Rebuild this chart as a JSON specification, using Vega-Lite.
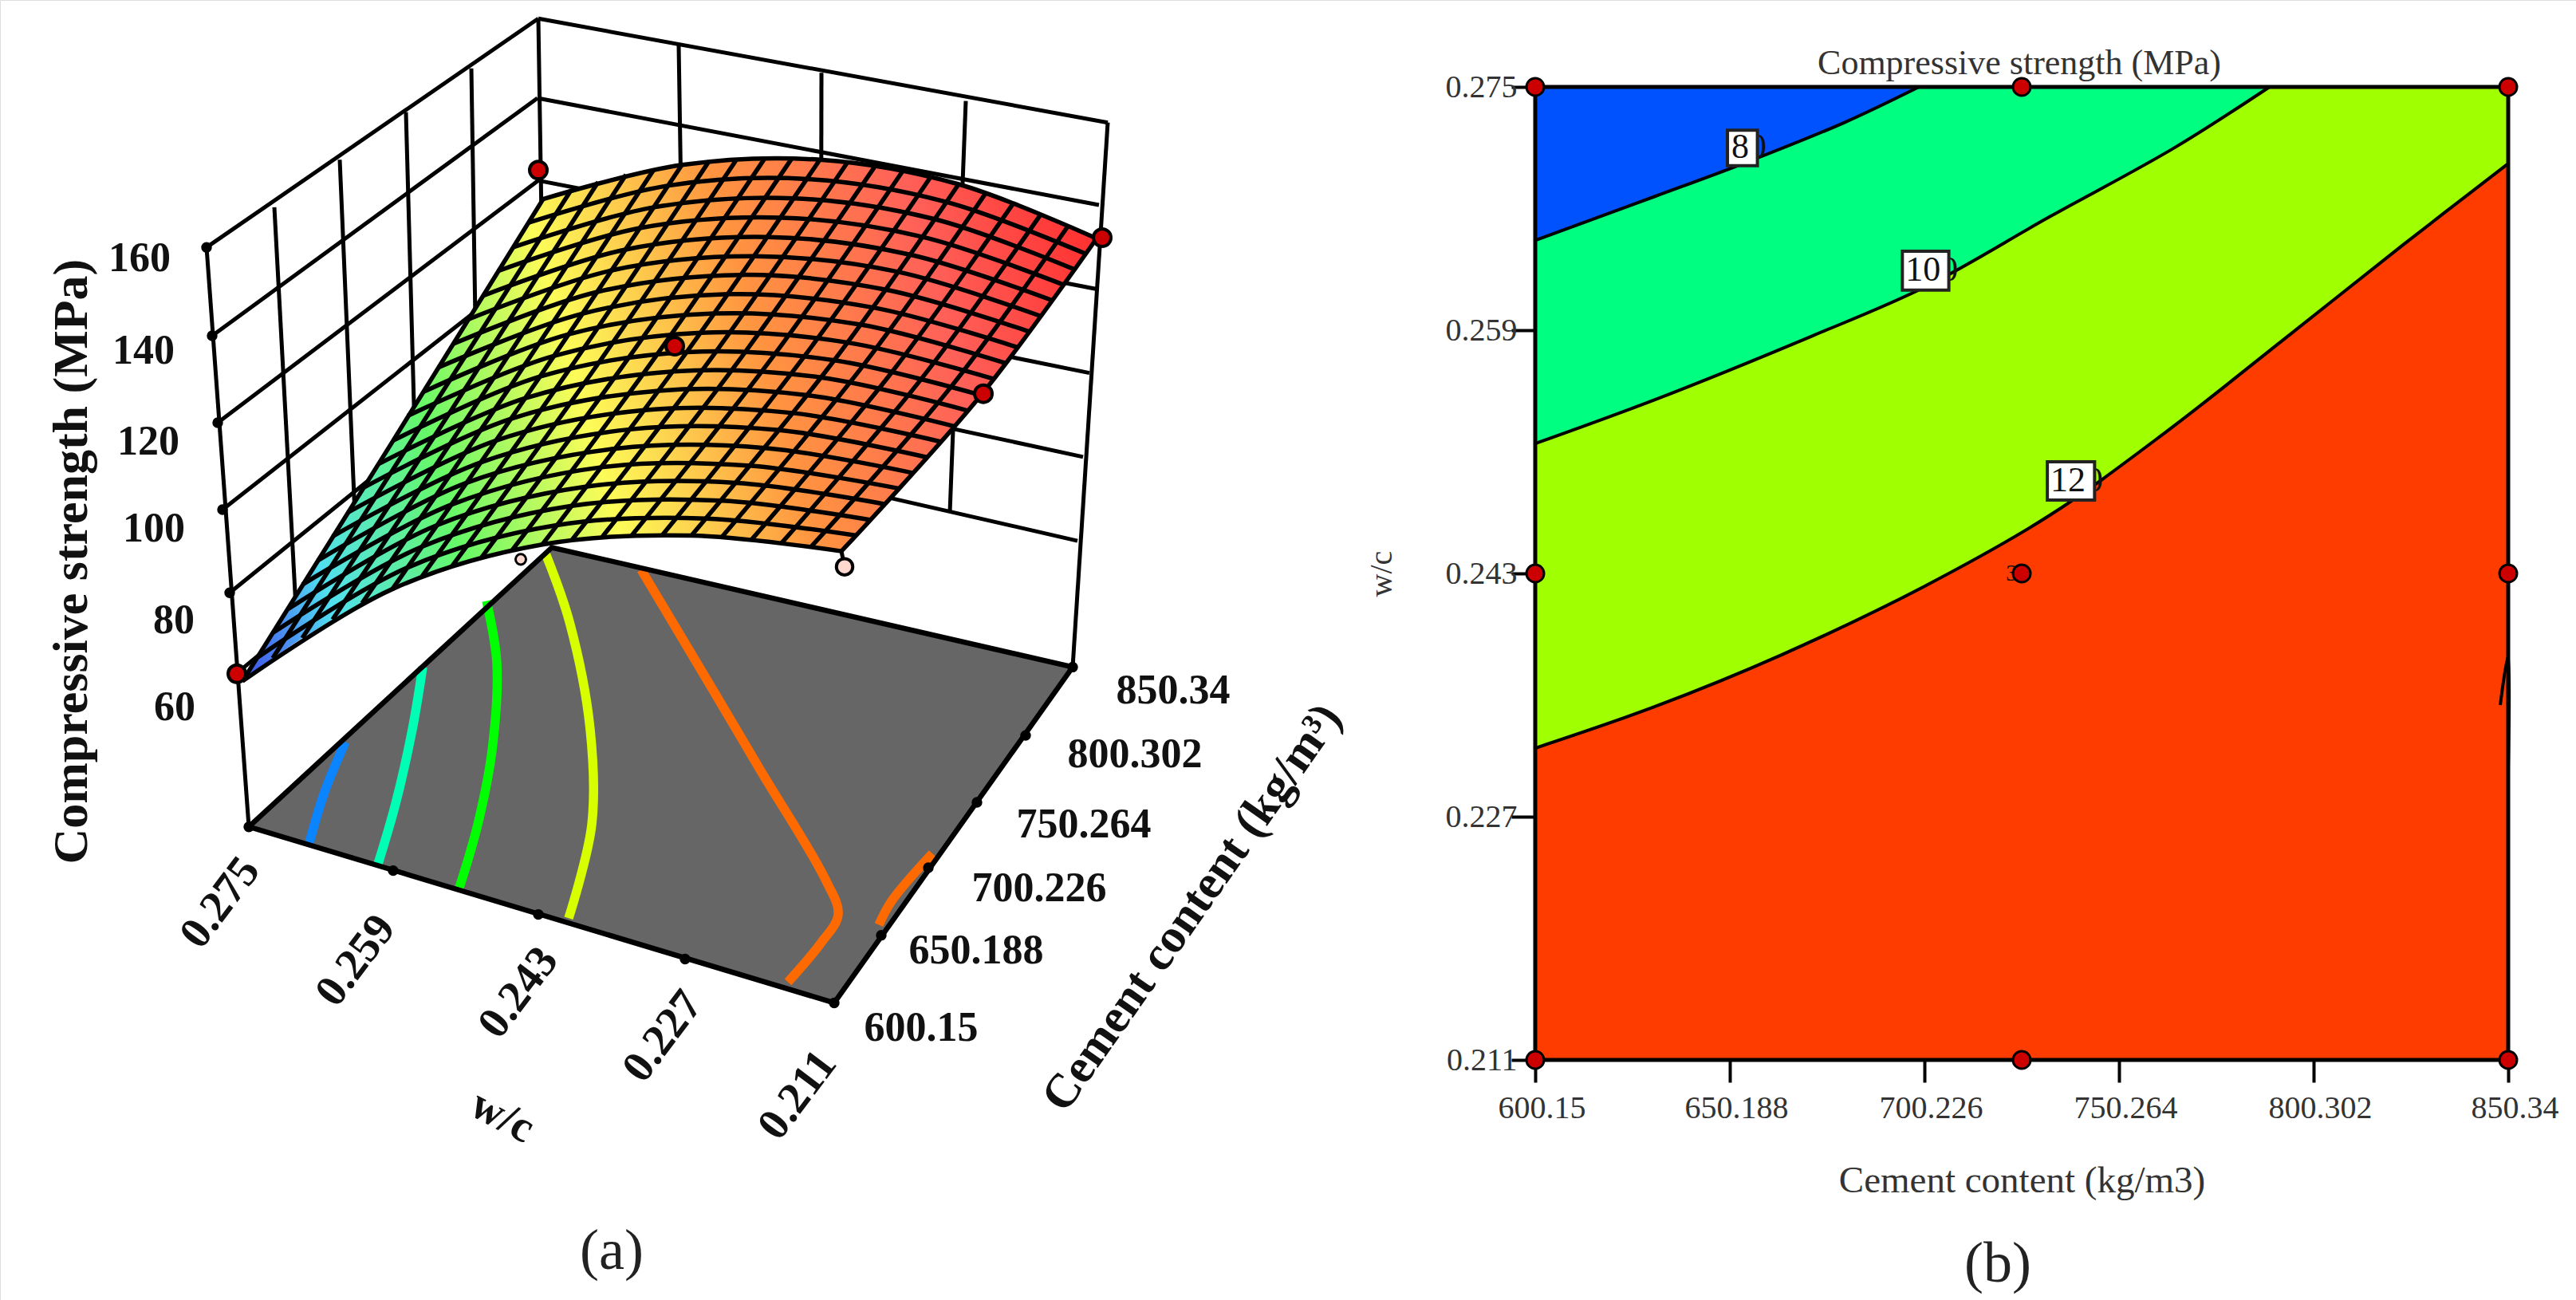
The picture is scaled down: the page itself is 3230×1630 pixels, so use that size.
{"$schema":"https://vega.github.io/schema/vega-lite/v6.json","autosize":{"type":"fit","contains":"padding"},"width":3230,"height":1630,"padding":0,"background":"white",
"datasets":{
"walls":[
{"l":"postL","u":259,"v":333},{"l":"postL","u":312,"v":1113},
{"l":"postB","u":675,"v":25},{"l":"postB","u":683,"v":564},
{"l":"postR","u":1389,"v":165},{"l":"postR","u":1345,"v":898},
{"l":"L160","u":259,"v":333},{"l":"L160","u":675,"v":25},
{"l":"L140","u":266,"v":452},{"l":"L140","u":674,"v":132},
{"l":"L120","u":273,"v":569},{"l":"L120","u":675,"v":243},
{"l":"L100","u":279,"v":686},{"l":"L100","u":676,"v":352},
{"l":"L80","u":288,"v":798},{"l":"L80","u":679,"v":458},
{"l":"L60","u":296,"v":907},{"l":"L60","u":683,"v":564},
{"l":"R160","u":675,"v":25},{"l":"R160","u":1389,"v":165},
{"l":"R140","u":674,"v":132},{"l":"R140","u":1378,"v":276},
{"l":"R120","u":675,"v":243},{"l":"R120","u":1374,"v":389},
{"l":"R100","u":676,"v":352},{"l":"R100","u":1366,"v":502},
{"l":"R80","u":679,"v":458},{"l":"R80","u":1358,"v":615},
{"l":"R60","u":683,"v":564},{"l":"R60","u":1351,"v":728},
{"l":"VL1","u":344,"v":279},{"l":"VL1","u":372,"v":838},
{"l":"VL2","u":426,"v":215},{"l":"VL2","u":448,"v":770},
{"l":"VL3","u":509,"v":151},{"l":"VL3","u":523,"v":701},
{"l":"VL4","u":591,"v":92},{"l":"VL4","u":599,"v":633},
{"l":"VR1","u":851,"v":61},{"l":"VR1","u":859,"v":608},
{"l":"VR2","u":1030,"v":98},{"l":"VR2","u":1029,"v":653},
{"l":"VR3","u":1211,"v":136},{"l":"VR3","u":1191,"v":690},
{"l":"stem","u":1055,"v":742},{"l":"stem","u":1059,"v":763}],
"floor":[{"u":312,"a":1113,"b":1113},{"u":692,"a":737,"b":1236},{"u":1046,"a":824,"b":1350},{"u":1345,"a":898,"b":898}],
"floorEdge":[{"i":0,"u":312,"v":1113},{"i":1,"u":692,"v":737},{"i":2,"u":1345,"v":898},{"i":3,"u":1046,"v":1350},{"i":4,"u":312,"v":1113}],
"floorContours":[
{"id":"a","level":80,"i":0,"u":433,"v":999},{"id":"a","level":80,"i":1,"u":407,"v":1066},{"id":"a","level":80,"i":2,"u":388,"v":1134},
{"id":"b","level":90,"i":0,"u":530,"v":898},{"id":"b","level":90,"i":1,"u":517,"v":982},{"id":"b","level":90,"i":2,"u":496,"v":1082},{"id":"b","level":90,"i":3,"u":474,"v":1163},
{"id":"c","level":100,"i":0,"u":610,"v":809},{"id":"c","level":100,"i":1,"u":623,"v":893},{"id":"c","level":100,"i":2,"u":617,"v":1010},{"id":"c","level":100,"i":3,"u":599,"v":1110},{"id":"c","level":100,"i":4,"u":576,"v":1195},
{"id":"d","level":110,"i":0,"u":684,"v":745},{"id":"d","level":110,"i":1,"u":714,"v":837},{"id":"d","level":110,"i":2,"u":740,"v":982},{"id":"d","level":110,"i":3,"u":742,"v":1110},{"id":"d","level":110,"i":4,"u":713,"v":1236},
{"id":"e","level":120,"i":0,"u":804,"v":767},{"id":"e","level":120,"i":1,"u":893,"v":927},{"id":"e","level":120,"i":2,"u":953,"v":1036},{"id":"e","level":120,"i":3,"u":1035,"v":1184},{"id":"e","level":120,"i":4,"u":1051,"v":1231},{"id":"e","level":120,"i":5,"u":1029,"v":1270},{"id":"e","level":120,"i":6,"u":988,"v":1322},
{"id":"f","level":120,"i":0,"u":1102,"v":1245},{"id":"f","level":120,"i":1,"u":1118,"v":1213},{"id":"f","level":120,"i":2,"u":1169,"v":1149}],
"surface":[{"u":304,"a":917,"b":917},{"u":342,"a":852,"b":886},{"u":379,"a":787,"b":859},{"u":417,"a":722,"b":834},{"u":454,"a":659,"b":812},{"u":492,"a":593,"b":793},{"u":529,"a":530,"b":776},{"u":567,"a":464,"b":762},{"u":604,"a":401,"b":750},{"u":642,"a":335,"b":741},{"u":681,"a":268,"b":733},{"u":717,"a":256,"b":727},{"u":750,"a":245,"b":723},{"u":785,"a":235,"b":721},{"u":820,"a":228,"b":721},{"u":855,"a":222,"b":721},{"u":889,"a":217,"b":722},{"u":924,"a":214,"b":725},{"u":959,"a":213,"b":729},{"u":993,"a":213,"b":733},{"u":1028,"a":215,"b":738},{"u":1055,"a":217,"b":742},{"u":1097,"a":224,"b":694},{"u":1132,"a":230,"b":654},{"u":1167,"a":238,"b":611},{"u":1202,"a":248,"b":569},{"u":1236,"a":260,"b":523},{"u":1271,"a":273,"b":475},{"u":1306,"a":287,"b":426},{"u":1340,"a":303,"b":376},{"u":1375,"a":321,"b":321}],
"mesh":[
{"l":0,"u":304,"v":917},{"l":0,"u":492,"v":793},{"l":0,"u":680,"v":733},{"l":0,"u":867,"v":721},{"l":0,"u":1055,"v":742},
{"l":1,"u":323,"v":885},{"l":1,"u":511,"v":764},{"l":1,"u":698,"v":707},{"l":1,"u":886,"v":698},{"l":1,"u":1074,"v":721},
{"l":2,"u":342,"v":852},{"l":2,"u":529,"v":736},{"l":2,"u":717,"v":681},{"l":2,"u":905,"v":674},{"l":2,"u":1092,"v":700},
{"l":3,"u":361,"v":820},{"l":3,"u":548,"v":707},{"l":3,"u":736,"v":655},{"l":3,"u":923,"v":650},{"l":3,"u":1111,"v":679},
{"l":4,"u":379,"v":787},{"l":4,"u":567,"v":679},{"l":4,"u":754,"v":629},{"l":4,"u":941,"v":627},{"l":4,"u":1129,"v":658},
{"l":5,"u":398,"v":755},{"l":5,"u":585,"v":650},{"l":5,"u":772,"v":604},{"l":5,"u":959,"v":603},{"l":5,"u":1146,"v":637},
{"l":6,"u":417,"v":722},{"l":6,"u":604,"v":622},{"l":6,"u":790,"v":578},{"l":6,"u":977,"v":579},{"l":6,"u":1164,"v":616},
{"l":7,"u":436,"v":690},{"l":7,"u":622,"v":593},{"l":7,"u":808,"v":552},{"l":7,"u":994,"v":556},{"l":7,"u":1181,"v":595},
{"l":8,"u":455,"v":657},{"l":8,"u":640,"v":564},{"l":8,"u":826,"v":526},{"l":8,"u":1012,"v":532},{"l":8,"u":1197,"v":574},
{"l":9,"u":474,"v":625},{"l":9,"u":659,"v":536},{"l":9,"u":844,"v":500},{"l":9,"u":1029,"v":508},{"l":9,"u":1214,"v":553},
{"l":10,"u":493,"v":593},{"l":10,"u":677,"v":507},{"l":10,"u":861,"v":474},{"l":10,"u":1046,"v":485},{"l":10,"u":1230,"v":532},
{"l":11,"u":511,"v":560},{"l":11,"u":695,"v":479},{"l":11,"u":879,"v":448},{"l":11,"u":1062,"v":461},{"l":11,"u":1246,"v":510},
{"l":12,"u":530,"v":528},{"l":12,"u":713,"v":450},{"l":12,"u":896,"v":422},{"l":12,"u":1079,"v":437},{"l":12,"u":1261,"v":489},
{"l":13,"u":549,"v":495},{"l":13,"u":731,"v":422},{"l":13,"u":913,"v":396},{"l":13,"u":1095,"v":414},{"l":13,"u":1277,"v":468},
{"l":14,"u":568,"v":463},{"l":14,"u":749,"v":393},{"l":14,"u":930,"v":370},{"l":14,"u":1111,"v":390},{"l":14,"u":1292,"v":447},
{"l":15,"u":587,"v":430},{"l":15,"u":767,"v":364},{"l":15,"u":946,"v":345},{"l":15,"u":1126,"v":366},{"l":15,"u":1306,"v":426},
{"l":16,"u":606,"v":398},{"l":16,"u":784,"v":336},{"l":16,"u":963,"v":319},{"l":16,"u":1142,"v":343},{"l":16,"u":1321,"v":405},
{"l":17,"u":624,"v":365},{"l":17,"u":802,"v":307},{"l":17,"u":980,"v":293},{"l":17,"u":1157,"v":319},{"l":17,"u":1335,"v":384},
{"l":18,"u":643,"v":333},{"l":18,"u":820,"v":279},{"l":18,"u":996,"v":267},{"l":18,"u":1172,"v":295},{"l":18,"u":1348,"v":363},
{"l":19,"u":662,"v":300},{"l":19,"u":837,"v":250},{"l":19,"u":1012,"v":241},{"l":19,"u":1187,"v":272},{"l":19,"u":1362,"v":342},
{"l":20,"u":681,"v":268},{"l":20,"u":855,"v":222},{"l":20,"u":1028,"v":215},{"l":20,"u":1202,"v":248},{"l":20,"u":1375,"v":321},
{"l":100,"u":304,"v":917},{"l":100,"u":493,"v":593},{"l":100,"u":681,"v":268},
{"l":101,"u":342,"v":886},{"l":101,"u":529,"v":571},{"l":101,"u":716,"v":256},
{"l":102,"u":379,"v":859},{"l":102,"u":566,"v":552},{"l":102,"u":750,"v":245},
{"l":103,"u":417,"v":834},{"l":103,"u":603,"v":535},{"l":103,"u":785,"v":235},
{"l":104,"u":454,"v":812},{"l":104,"u":640,"v":520},{"l":104,"u":820,"v":228},
{"l":105,"u":492,"v":793},{"l":105,"u":677,"v":507},{"l":105,"u":855,"v":222},
{"l":106,"u":529,"v":776},{"l":106,"u":714,"v":497},{"l":106,"u":889,"v":217},
{"l":107,"u":567,"v":762},{"l":107,"u":751,"v":488},{"l":107,"u":924,"v":214},
{"l":108,"u":604,"v":750},{"l":108,"u":788,"v":482},{"l":108,"u":959,"v":213},
{"l":109,"u":642,"v":741},{"l":109,"u":824,"v":477},{"l":109,"u":993,"v":213},
{"l":110,"u":680,"v":733},{"l":110,"u":861,"v":474},{"l":110,"u":1028,"v":215},
{"l":111,"u":717,"v":727},{"l":111,"u":898,"v":473},{"l":111,"u":1063,"v":218},
{"l":112,"u":755,"v":723},{"l":112,"u":935,"v":473},{"l":112,"u":1097,"v":224},
{"l":113,"u":792,"v":721},{"l":113,"u":972,"v":476},{"l":113,"u":1132,"v":230},
{"l":114,"u":830,"v":721},{"l":114,"u":1009,"v":479},{"l":114,"u":1167,"v":238},
{"l":115,"u":867,"v":721},{"l":115,"u":1046,"v":485},{"l":115,"u":1202,"v":248},
{"l":116,"u":905,"v":723},{"l":116,"u":1083,"v":491},{"l":116,"u":1236,"v":260},
{"l":117,"u":942,"v":727},{"l":117,"u":1119,"v":500},{"l":117,"u":1271,"v":273},
{"l":118,"u":980,"v":731},{"l":118,"u":1156,"v":509},{"l":118,"u":1306,"v":287},
{"l":119,"u":1017,"v":736},{"l":119,"u":1193,"v":520},{"l":119,"u":1340,"v":303},
{"l":120,"u":1055,"v":742},{"l":120,"u":1230,"v":532},{"l":120,"u":1375,"v":321}],
"tickDots":[{"u":493,"v":1172},{"u":675,"v":1231},{"u":859,"v":1291},{"u":1105,"v":1259},{"u":1164,"v":1168},{"u":1225,"v":1080},{"u":1286,"v":990},{"u":259,"v":333},{"u":266,"v":452},{"u":273,"v":569},{"u":279,"v":686},{"u":288,"v":798},{"u":312,"v":1113},{"u":1046,"v":1350},{"u":1345,"v":898}],
"runsA":[{"u":297,"v":907},{"u":675,"v":229},{"u":1382,"v":320},{"u":846,"v":466},{"u":1233,"v":530}],
"zLabels":[{"u":175,"v":348,"t":"160"},{"u":180,"v":472,"t":"140"},{"u":186,"v":595,"t":"120"},{"u":193,"v":712,"t":"100"},{"u":218,"v":835,"t":"80"},{"u":219,"v":952,"t":"60"},{"u":1155,"v":1384,"t":"600.15"},{"u":1224,"v":1280,"t":"650.188"},{"u":1303,"v":1196,"t":"700.226"},{"u":1359,"v":1110,"t":"750.264"},{"u":1423,"v":1016,"t":"800.302"},{"u":1471,"v":930,"t":"850.34"}],
"wcLabels":[{"u":276,"v":1215,"t":"0.275"},{"u":446,"v":1293,"t":"0.259"},{"u":650,"v":1336,"t":"0.243"},{"u":831,"v":1395,"t":"0.227"},{"u":1000,"v":1474,"t":"0.211"}],
"contours":[
{"level":0,"cement":600.15,"wc":0.211,"top":0.275},{"level":0,"cement":850.34,"wc":0.211,"top":0.275},
{"level":120,"cement":600.15,"wc":0.23151,"top":0.275},{"level":120,"cement":630.94,"wc":0.23424,"top":0.275},{"level":120,"cement":663.36,"wc":0.23763,"top":0.275},{"level":120,"cement":699.82,"wc":0.2421,"top":0.275},{"level":120,"cement":732.23,"wc":0.24679,"top":0.275},{"level":120,"cement":762.62,"wc":0.25236,"top":0.275},{"level":120,"cement":793.01,"wc":0.25847,"top":0.275},{"level":120,"cement":823.4,"wc":0.26463,"top":0.275},{"level":120,"cement":850.34,"wc":0.26996,"top":0.275},
{"level":100,"cement":600.15,"wc":0.25154,"top":0.275},{"level":100,"cement":630.94,"wc":0.25443,"top":0.275},{"level":100,"cement":671.46,"wc":0.25863,"top":0.275},{"level":100,"cement":700.83,"wc":0.2619,"top":0.275},{"level":100,"cement":732.23,"wc":0.26643,"top":0.275},{"level":100,"cement":764.65,"wc":0.27102,"top":0.275},{"level":100,"cement":788.96,"wc":0.275,"top":0.275},
{"level":80,"cement":600.15,"wc":0.26491,"top":0.275},{"level":80,"cement":630.94,"wc":0.2678,"top":0.275},{"level":80,"cement":653.23,"wc":0.26992,"top":0.275},{"level":80,"cement":679.56,"wc":0.27265,"top":0.275},{"level":80,"cement":698.81,"wc":0.275,"top":0.275},
{"level":140,"cement":850.34,"wc":0.23763,"top":0.275},{"level":140,"cement":848.3,"wc":0.23435,"top":0.275},{"level":140,"cement":850.34,"wc":0.23026,"top":0.275}],
"frame":[{"i":0,"cement":600.15,"wc":0.211},{"i":1,"cement":600.15,"wc":0.275},{"i":2,"cement":850.34,"wc":0.275},{"i":3,"cement":850.34,"wc":0.211},{"i":4,"cement":600.15,"wc":0.211}],
"runsB":[{"cement":600.15,"wc":0.275},{"cement":725.245,"wc":0.275},{"cement":850.34,"wc":0.275},{"cement":600.15,"wc":0.243},{"cement":725.245,"wc":0.243},{"cement":850.34,"wc":0.243},{"cement":600.15,"wc":0.211},{"cement":725.245,"wc":0.211},{"cement":850.34,"wc":0.211}],
"contourLabels":[
{"cement":650.59,"wc":0.27102,"short":"8","rem":655.1,"c1":649.58,"c2":657.28,"w1":0.26982,"w2":0.27216},
{"cement":695.36,"wc":0.26294,"short":"10","rem":704.38,"c1":694.55,"c2":706.5,"w1":0.26163,"w2":0.2642},
{"cement":732.64,"wc":0.24908,"short":"12","rem":741.66,"c1":731.83,"c2":743.98,"w1":0.24783,"w2":0.25034}]
},
"resolve":{"scale":{"x":"independent","y":"independent"},"axis":{"x":"independent","y":"independent"}},
"layer":[
{"encoding":{
"x":{"field":"u","type":"quantitative","scale":{"domain":[0,3230],"range":[0,3230],"nice":false,"zero":false},"axis":null},
"y":{"field":"v","type":"quantitative","scale":{"domain":[0,1750],"range":[0,1630],"nice":false,"zero":false},"axis":null}},
"layer":[
{"data":{"name":"walls"},"mark":{"type":"line","stroke":"#000000","strokeWidth":5},"encoding":{"detail":{"field":"l","type":"nominal"}}},
{"data":{"name":"floor"},"mark":{"type":"area","fill":"#666666","interpolate":"linear"},"encoding":{"y":{"field":"a","type":"quantitative","scale":{"domain":[0,1750],"range":[0,1630],"nice":false,"zero":false},"axis":null},"y2":{"field":"b"}}},
{"data":{"name":"floorContours"},"mark":{"type":"line","strokeWidth":11.5,"interpolate":"catmull-rom"},"encoding":{"detail":{"field":"id","type":"nominal"},"order":{"field":"i","type":"quantitative"},"stroke":{"field":"level","type":"nominal","scale":{"domain":[80,90,100,110,120],"range":["#0a84ff","#00ffb4","#00ff00","#d8ff00","#ff6a00"]},"legend":null}}},
{"data":{"name":"floorEdge"},"mark":{"type":"line","stroke":"#000000","strokeWidth":6.5},"encoding":{"order":{"field":"i","type":"quantitative"}}},
{"data":{"name":"tickDots"},"mark":{"type":"point","filled":true,"fill":"#000000","stroke":"#000000","size":130,"opacity":1}},
{"data":{"values":[{"u":1059,"v":763}]},"mark":{"type":"point","filled":true,"fill":"#ffd9d0","stroke":"#000000","strokeWidth":4,"size":420,"opacity":1}},
{"data":{"values":[{"u":653,"v":753}]},"mark":{"type":"point","filled":true,"fill":"#ffd9d0","stroke":"#000000","strokeWidth":3,"size":170,"opacity":1}},
{"data":{"name":"surface"},"mark":{"type":"area","interpolate":"linear","fill":{"gradient":"linear","x1":0,"y1":1,"x2":1.113,"y2":0.807,"stops":[{"offset":0,"color":"#3f4fe8"},{"offset":0.05,"color":"#4a86f2"},{"offset":0.112,"color":"#50e0f0"},{"offset":0.26,"color":"#66f868"},{"offset":0.427,"color":"#fcfc58"},{"offset":0.626,"color":"#ff9440"},{"offset":0.823,"color":"#ff6058"},{"offset":1,"color":"#ff3030"}]}},"encoding":{"y":{"field":"a","type":"quantitative","scale":{"domain":[0,1750],"range":[0,1630],"nice":false,"zero":false},"axis":null},"y2":{"field":"b"}}},
{"data":{"name":"mesh"},"mark":{"type":"line","stroke":"#000000","strokeWidth":5.5,"interpolate":"catmull-rom"},"encoding":{"detail":{"field":"l","type":"nominal"}}},
{"data":{"name":"runsA"},"mark":{"type":"point","filled":true,"fill":"#cc0000","stroke":"#000000","strokeWidth":4,"size":484,"opacity":1}},
{"data":{"name":"zLabels"},"mark":{"type":"text","font":"Liberation Serif","fontWeight":"bold","fontSize":52,"fill":"#111111","align":"center","baseline":"middle"},"encoding":{"text":{"field":"t","type":"nominal"}}},
{"data":{"name":"wcLabels"},"mark":{"type":"text","font":"Liberation Serif","fontWeight":"bold","fontSize":56,"fill":"#111111","align":"center","baseline":"middle","angle":-53},"encoding":{"text":{"field":"t","type":"nominal"}}},
{"data":{"values":[{"u":90,"v":756,"t":"Compressive strength (MPa)"}]},"mark":{"type":"text","font":"Liberation Serif","fontWeight":"bold","fontSize":62,"fill":"#111111","align":"center","baseline":"middle","angle":-90},"encoding":{"text":{"field":"t","type":"nominal"}}},
{"data":{"values":[{"u":630,"v":1503,"t":"w/c"}]},"mark":{"type":"text","font":"Liberation Serif","fontWeight":"bold","fontSize":56,"fill":"#111111","align":"center","baseline":"middle","angle":28},"encoding":{"text":{"field":"t","type":"nominal"}}},
{"data":{"values":[{"u":1495,"v":1222,"t":"Cement content (kg/m³)"}]},"mark":{"type":"text","font":"Liberation Serif","fontWeight":"bold","fontSize":60,"fill":"#111111","align":"center","baseline":"middle","angle":-55},"encoding":{"text":{"field":"t","type":"nominal"}}},
{"data":{"values":[{"u":767,"v":1685,"t":"(a)"},{"u":2505,"v":1702,"t":"(b)"}]},"mark":{"type":"text","font":"Liberation Serif","fontSize":72,"fill":"#222222","align":"center","baseline":"middle"},"encoding":{"text":{"field":"t","type":"nominal"}}},
{"data":{"values":[{"u":2532,"v":86,"t":"Compressive strength (MPa)"}]},"mark":{"type":"text","font":"Liberation Serif","fontSize":44,"fill":"#333333","align":"center","baseline":"middle"},"encoding":{"text":{"field":"t","type":"nominal"}}}
]},
{"encoding":{
"x":{"field":"cement","type":"quantitative","scale":{"domain":[600.15,850.34],"range":[1925,3145],"nice":false,"zero":false},
"axis":{"orient":"bottom","offset":-301,"values":[600.15,650.188,700.226,750.264,800.302,850.34],"format":".6~r","grid":false,"domain":false,"tickColor":"#000000","tickWidth":4,"tickSize":28,"labelFont":"Liberation Serif","labelFontSize":40,"labelColor":"#333333","labelPadding":12,"labelOffset":8,"labelFlush":false,"labelOverlap":false,"title":"Cement content (kg/m3)","titleFont":"Liberation Serif","titleFontSize":47,"titleFontWeight":"normal","titleColor":"#333333","titlePadding":48}},
"y":{"field":"wc","type":"quantitative","scale":{"domain":[0.211,0.275],"range":[1329,109],"nice":false,"zero":false},
"axis":{"orient":"left","offset":-1925,"values":[0.211,0.227,0.243,0.259,0.275],"format":".3f","grid":false,"domain":false,"tickColor":"#000000","tickWidth":4,"tickSize":30,"labelFont":"Liberation Serif","labelFontSize":40,"labelColor":"#333333","labelPadding":-7,"labelFlush":false,"labelOverlap":false,"title":"w/c","titleFont":"Liberation Serif","titleFontSize":40,"titleFontWeight":"normal","titleColor":"#333333","titlePadding":60}}},
"layer":[
{"data":{"name":"contours"},"transform":[{"filter":"datum.level != 140"}],"mark":{"type":"area","interpolate":"catmull-rom"},"encoding":{"y2":{"field":"top"},"fill":{"field":"level","type":"nominal","scale":{"domain":[0,120,100,80],"range":["#ff3c00","#a0ff00","#00ff80","#0052ff"]},"legend":null}}},
{"data":{"name":"contours"},"transform":[{"filter":"datum.level > 0"}],"mark":{"type":"line","stroke":"#000000","strokeWidth":4,"interpolate":"catmull-rom"},"encoding":{"detail":{"field":"level","type":"nominal"}}},
{"data":{"name":"frame"},"mark":{"type":"line","stroke":"#000000","strokeWidth":5},"encoding":{"order":{"field":"i","type":"quantitative"}}},
{"data":{"name":"contourLabels"},"mark":{"type":"text","font":"Liberation Serif","fontSize":44,"fill":"#111111","align":"left","baseline":"middle","text":"0"},"encoding":{"x":{"field":"rem","type":"quantitative","scale":{"domain":[600.15,850.34],"range":[1925,3145],"nice":false,"zero":false}}}},
{"data":{"name":"contourLabels"},"mark":{"type":"rect","fill":"#ffffff","stroke":"#222222","strokeWidth":4},"encoding":{"x":{"field":"c1","type":"quantitative","scale":{"domain":[600.15,850.34],"range":[1925,3145],"nice":false,"zero":false}},"x2":{"field":"c2"},"y":{"field":"w1","type":"quantitative","scale":{"domain":[0.211,0.275],"range":[1329,109],"nice":false,"zero":false}},"y2":{"field":"w2"}}},
{"data":{"name":"contourLabels"},"mark":{"type":"text","font":"Liberation Serif","fontSize":44,"fill":"#111111","align":"left","baseline":"middle"},"encoding":{"text":{"field":"short","type":"nominal"}}},
{"data":{"values":[{"cement":722.7,"wc":0.243,"t":"3"}]},"mark":{"type":"text","font":"Liberation Serif","fontSize":30,"fill":"#111111","align":"center","baseline":"middle"},"encoding":{"text":{"field":"t","type":"nominal"}}},
{"data":{"name":"runsB"},"mark":{"type":"point","filled":true,"fill":"#cc0000","stroke":"#000000","strokeWidth":3,"size":484,"opacity":1}}
]}
]}
